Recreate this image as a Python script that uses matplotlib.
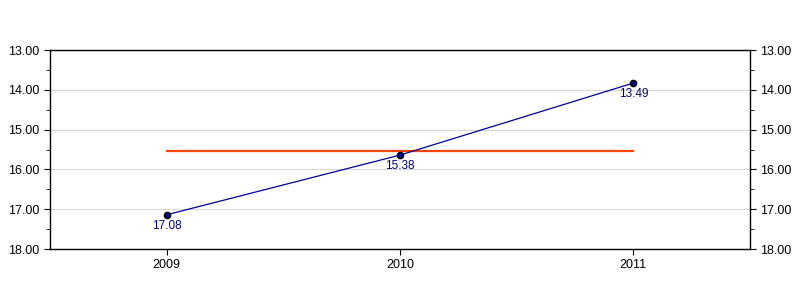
import matplotlib.pyplot as plt
import numpy as np
from matplotlib.ticker import MultipleLocator, FormatStrFormatter

plt.rcParams['font.family'] = ['Liberation Sans', 'DejaVu Sans']

# datos del grafico
anios = [2009, 2010, 2011]
valores = [17.14, 15.64, 13.83]
etiquetas = ['17.08', '15.38', '13.49']
promedio = np.mean(valores)

fig = plt.figure(figsize=(8, 3), dpi=100)
ax = fig.add_axes([0.0625, 0.17, 0.875, 0.6633])

# linea principal
ax.plot(anios, valores, color='#0000a0', lw=0.9, marker='o', markersize=4.5,
        markerfacecolor='#000080', markeredgecolor='black', zorder=3)

# linea de promedio
ax.plot([anios[0], anios[-1]], [promedio, promedio], color='#ff4500', lw=1.6, zorder=2)

# etiquetas bajo cada punto
for x, y, t in zip(anios, valores, etiquetas):
    ax.annotate(t, (x, y), xytext=(0, -3.5), textcoords='offset points',
                ha='center', va='top', fontsize=8.5, color='#000080')

ax.set_xlim(2008.5, 2011.5)
ax.set_ylim(18, 13)
ax.set_xticks(anios)
ax.set_xticklabels([str(a) for a in anios], fontsize=9)

ax.yaxis.set_major_locator(MultipleLocator(1))
ax.yaxis.set_minor_locator(MultipleLocator(0.5))
ax.yaxis.set_major_formatter(FormatStrFormatter('%.2f'))
ax.tick_params(axis='y', which='both', left=True, right=True, labelleft=True,
               labelright=True, labelsize=9, direction='out')
ax.tick_params(axis='y', which='minor', length=3)
ax.tick_params(axis='both', which='major', length=4)
ax.grid(axis='y', color='#d8d8d8', lw=0.8)
ax.set_axisbelow(True)

for s in ax.spines.values():
    s.set_linewidth(1)

plt.savefig('out.png')
